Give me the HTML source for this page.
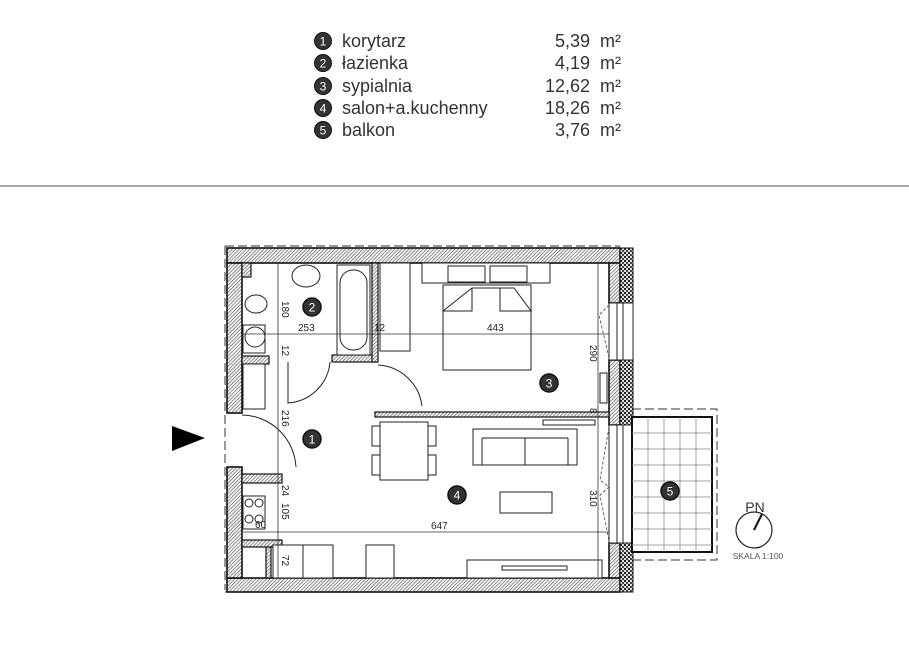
<!DOCTYPE html>
<html><head><meta charset="utf-8"><style>
html,body{margin:0;padding:0;background:#fff;}
svg{display:block;}
text{font-family:"Liberation Sans",sans-serif;}
</style></head><body>
<svg width="909" height="647" viewBox="0 0 909 647" xmlns="http://www.w3.org/2000/svg">
<defs>
<pattern id="h" width="2.5" height="2.5" patternUnits="userSpaceOnUse" patternTransform="rotate(45)">
<rect width="2.5" height="2.5" fill="#fff"/><line x1="0" y1="0" x2="0" y2="2.5" stroke="#555" stroke-width="1.4"/></pattern>
<pattern id="d" width="4" height="4" patternUnits="userSpaceOnUse">
<rect width="4" height="4" fill="#ddd"/><rect x="0" y="0" width="2" height="2" fill="#222"/><rect x="2" y="2" width="2" height="2" fill="#444"/></pattern>
</defs>
<!-- legend -->
<g font-size="18" fill="#333">
<g fill="#333" stroke="#111" stroke-width="1">
<circle cx="323" cy="41" r="8.5"/><circle cx="323" cy="63" r="8.5"/><circle cx="323" cy="86" r="8.5"/><circle cx="323" cy="108" r="8.5"/><circle cx="323" cy="130" r="8.5"/></g>
<g fill="#fff" font-size="12" text-anchor="middle">
<text x="323" y="45.5">1</text><text x="323" y="67.5">2</text><text x="323" y="90.5">3</text><text x="323" y="112.5">4</text><text x="323" y="134.5">5</text></g>
<text x="342" y="47">korytarz</text><text x="342" y="69">łazienka</text><text x="342" y="92">sypialnia</text><text x="342" y="114">salon+a.kuchenny</text><text x="342" y="136">balkon</text>
<g text-anchor="end"><text x="590" y="47">5,39</text><text x="590" y="69">4,19</text><text x="590" y="92">12,62</text><text x="590" y="114">18,26</text><text x="590" y="136">3,76</text></g>
<text x="600" y="47">m²</text><text x="600" y="69">m²</text><text x="600" y="92">m²</text><text x="600" y="114">m²</text><text x="600" y="136">m²</text>
</g>
<line x1="0" y1="186" x2="909" y2="186" stroke="#777" stroke-width="1.3"/>

<!-- dashed outline -->
<g fill="none" stroke="#333" stroke-width="1" stroke-dasharray="9,4">
<path d="M225 246 H620"/><path d="M225 246 V590"/><path d="M225 592 H622"/>
<path d="M632 409 H717 V560 H632"/>
</g>
<!-- outer walls -->
<g fill="url(#h)" stroke="#111" stroke-width="1.6">
<rect x="227" y="248" width="393" height="15"/>
<rect x="227" y="578" width="393" height="14"/>
<rect x="227" y="263" width="15" height="150"/>
<rect x="227" y="467" width="15" height="111"/>
<rect x="609" y="263" width="11" height="40"/>
<rect x="609" y="360" width="11" height="65"/>
<rect x="609" y="543" width="11" height="35"/>
</g>
<g fill="url(#d)" stroke="#111" stroke-width="1">
<rect x="620" y="248" width="13" height="55"/>
<rect x="620" y="360" width="13" height="65"/>
<rect x="620" y="543" width="13" height="49"/>
</g>
<!-- windows -->
<g fill="#fff" stroke="#222" stroke-width="1">
<rect x="609" y="303" width="24" height="57"/><line x1="617" y1="303" x2="617" y2="360"/><line x1="623" y1="303" x2="623" y2="360"/>
<rect x="609" y="425" width="24" height="118"/><line x1="617" y1="425" x2="617" y2="543"/><line x1="623" y1="425" x2="623" y2="543"/>
</g>
<g fill="none" stroke="#444" stroke-width="0.8" stroke-dasharray="3,2">
<path d="M609 305 L599 315 L609 358"/><path d="M609 427 L600 480 L609 487 L600 495 L609 541"/>
</g>
<!-- internal walls -->
<g fill="url(#h)" stroke="#111" stroke-width="1.2">
<rect x="332" y="355" width="45" height="7"/>
<rect x="372" y="263" width="6" height="99"/>
<rect x="375" y="412" width="234" height="5"/>
<rect x="242" y="356" width="27" height="8"/>
<rect x="242" y="263" width="9" height="14"/>
<rect x="242" y="474" width="40" height="9"/>
<rect x="242" y="540" width="40" height="7"/>
<rect x="266" y="547" width="5" height="31"/>
</g>
<!-- balcony -->
<rect x="632" y="417" width="80" height="135" fill="#fff" stroke="#111" stroke-width="2"/>
<g stroke="#888" stroke-width="0.8">
<line x1="648" y1="417" x2="648" y2="552"/><line x1="664" y1="417" x2="664" y2="552"/><line x1="680" y1="417" x2="680" y2="552"/><line x1="696" y1="417" x2="696" y2="552"/>
<line x1="632" y1="433" x2="712" y2="433"/><line x1="632" y1="449" x2="712" y2="449"/><line x1="632" y1="465" x2="712" y2="465"/><line x1="632" y1="481" x2="712" y2="481"/><line x1="632" y1="497" x2="712" y2="497"/><line x1="632" y1="513" x2="712" y2="513"/><line x1="632" y1="529" x2="712" y2="529"/><line x1="632" y1="545" x2="712" y2="545"/>
</g>
<!-- furniture -->
<g fill="#fff" stroke="#222" stroke-width="1">
<ellipse cx="306" cy="276" rx="14" ry="11"/>
<rect x="337" y="265" width="33" height="90"/><rect x="340" y="270" width="27" height="80" rx="13"/>
<ellipse cx="256" cy="304" rx="11" ry="9"/>
<rect x="243" y="325" width="22" height="28"/><circle cx="255" cy="337" r="10"/>
<rect x="243" y="364" width="22" height="45"/>
<rect x="380" y="263" width="30" height="88"/>
<rect x="422" y="263" width="128" height="20"/><rect x="448" y="266" width="37" height="16"/><rect x="490" y="266" width="37" height="16"/>
<rect x="443" y="285" width="88" height="85"/><path d="M443 311 L472 288 H514 L531 311 H500 V288 M472 288 V311 H443"/>
<rect x="380" y="422" width="48" height="58"/><rect x="372" y="426" width="8" height="20"/><rect x="372" y="455" width="8" height="20"/><rect x="428" y="426" width="8" height="20"/><rect x="428" y="455" width="8" height="20"/>
<rect x="473" y="429" width="104" height="36"/><line x1="482" y1="438" x2="568" y2="438"/><line x1="482" y1="438" x2="482" y2="465"/><line x1="568" y1="438" x2="568" y2="465"/><line x1="525" y1="438" x2="525" y2="465"/>
<rect x="500" y="492" width="52" height="21"/>
<rect x="543" y="420" width="52" height="5"/>
<rect x="600" y="373" width="7" height="30"/>
<rect x="243" y="496" width="22" height="33"/>
<circle cx="249" cy="503" r="4"/><circle cx="259" cy="503" r="4"/><circle cx="249" cy="519" r="4"/><circle cx="259" cy="519" r="4"/>
<rect x="273" y="545" width="30" height="33"/><rect x="306" y="548" width="24" height="28"/>
<rect x="303" y="545" width="30" height="33"/><rect x="366" y="545" width="28" height="33"/>
<rect x="467" y="560" width="135" height="18"/><rect x="502" y="566" width="65" height="4"/>
</g>
<!-- doors -->
<g fill="none" stroke="#222" stroke-width="1">
<path d="M242 415 A55 55 0 0 1 296 467"/><path d="M288 362 V403 A45 45 0 0 0 330 362"/>
<path d="M378 365 A47 47 0 0 1 422 406"/>
</g>
<!-- dimension lines -->
<g stroke="#333" stroke-width="0.8">
<line x1="242" y1="334" x2="609" y2="334"/><line x1="278" y1="263" x2="278" y2="578"/>
<line x1="598" y1="263" x2="598" y2="578"/><line x1="242" y1="532" x2="609" y2="532"/>
</g>
<g font-size="10" fill="#222">
<text x="298" y="331">253</text><text x="374" y="331">12</text><text x="487" y="331">443</text><text x="431" y="529">647</text>
<text x="255" y="528">60</text>
<g transform="rotate(90)"><text x="301" y="-282">180</text><text x="410" y="-282">216</text><text x="345" y="-282">12</text><text x="485" y="-282">24</text><text x="503" y="-282">105</text><text x="555" y="-282">72</text><text x="345" y="-590">290</text><text x="490" y="-590">310</text><text x="408" y="-590">8</text></g>
</g>
<!-- room markers -->
<g fill="#333" stroke="#111" stroke-width="1.5">
<circle cx="312" cy="307" r="9"/><circle cx="312" cy="439" r="9"/><circle cx="549" cy="383" r="9"/><circle cx="457" cy="495" r="9"/><circle cx="670" cy="491" r="9"/></g>
<g fill="#fff" font-size="12" text-anchor="middle">
<text x="312" y="311.5">2</text><text x="312" y="443.5">1</text><text x="549" y="387.5">3</text><text x="457" y="499.5">4</text><text x="670" y="495.5">5</text></g>
<!-- entrance arrow -->
<polygon points="172,426 205,438 172,451" fill="#000"/>
<!-- compass -->
<circle cx="754" cy="530" r="18" fill="none" stroke="#222" stroke-width="1.2"/>
<line x1="754" y1="530" x2="762" y2="514" stroke="#111" stroke-width="2"/>
<text x="755" y="512" font-size="14" text-anchor="middle" fill="#333">PN</text>
<text x="758" y="559" font-size="8.5" text-anchor="middle" fill="#555">SKALA 1:100</text>
</svg>
</body></html>
